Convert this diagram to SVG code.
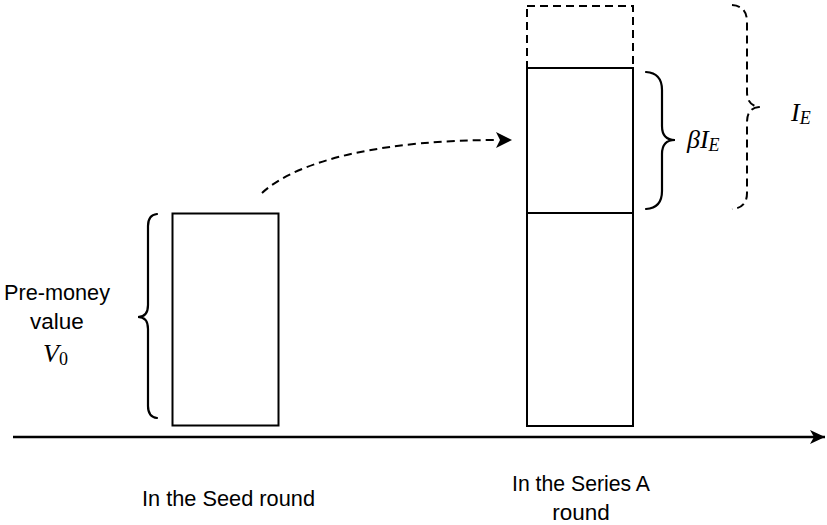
<svg xmlns="http://www.w3.org/2000/svg" width="827" height="525" viewBox="0 0 827 525">
  <style>
    .box { fill: none; stroke: #000; stroke-width: 2; }
    .dash { fill: none; stroke: #000; stroke-width: 2; stroke-dasharray: 8 5; }
    .brace { fill: none; stroke: #000; stroke-width: 2.2; stroke-linecap: round; }
    .lbl { font-family: "Liberation Sans", Arial, sans-serif; font-size: 22.5px; fill: #000; text-anchor: middle; }
    .math { font-family: "Liberation Serif", "DejaVu Serif", serif; font-style: italic; font-size: 26px; fill: #000; }
    .sub { font-size: 18px; }
    .up { font-style: normal; }
  </style>
  <defs>
    <marker id="head" markerWidth="16" markerHeight="16" refX="15" refY="8" orient="auto" markerUnits="userSpaceOnUse">
      <path d="M0,1 L15,8 L0,15 L4,8 Z" fill="#000"/>
    </marker>
  </defs>

  <!-- connectors -->
  <g id="connectors">
    <line x1="13" y1="437" x2="825" y2="437" stroke="#000" stroke-width="2.5" marker-end="url(#head)"/>
    <path class="dash" d="M262,193 C300,158 390,140 498,140"/>
    <path d="M496,132 L512,140 L496,148 L500,140 Z" fill="#000"/>
  </g>

  <!-- seed round stack -->
  <g id="seed-box">
    <rect class="box" x="172.5" y="213.5" width="106" height="212"/>
  </g>
  <g id="seed-brace">
    <path class="brace" d="M157,214 Q148,215 148,226 L148,305 Q148,317 138,317 Q148,317 148,329 L148,406 Q148,417 157,418"/>
  </g>
  <g id="pre-money-label">
    <text class="lbl" x="57" y="300" textLength="106" lengthAdjust="spacingAndGlyphs">Pre-money</text>
    <text class="lbl" x="57" y="329">value</text>
    <text class="math" x="43" y="362">V<tspan class="sub up" dy="3">0</tspan></text>
  </g>
  <g id="seed-caption">
    <text class="lbl" x="228.5" y="506" textLength="173" lengthAdjust="spacingAndGlyphs">In the Seed round</text>
  </g>

  <!-- series A stack -->
  <g id="series-a-new">
    <rect class="dash" x="527" y="6" width="106" height="62"/>
  </g>
  <g id="series-a-equity">
    <rect class="box" x="527" y="68" width="106" height="145"/>
  </g>
  <g id="series-a-base">
    <rect class="box" x="527" y="213" width="106" height="213"/>
  </g>
  <g id="beta-brace">
    <path class="brace" d="M646,72 Q662,73 662,90 L662,126 Q662,140 675,140 Q662,140 662,154 L662,191 Q662,208 646,209"/>
    <text class="math" x="687" y="148">βI<tspan class="sub" dy="3">E</tspan></text>
  </g>
  <g id="ie-brace">
    <path class="dash" d="M732,5 Q747,6 747,22 L747,92 Q747,106 760,107 M759,107 Q747,108 747,122 L747,193 Q747,208 732,209"/>
    <text class="math" x="791" y="121">I<tspan class="sub" dy="3">E</tspan></text>
  </g>
  <g id="series-a-caption">
    <text class="lbl" x="581" y="491" textLength="138" lengthAdjust="spacingAndGlyphs">In the Series A</text>
    <text class="lbl" x="581" y="520">round</text>
  </g>
</svg>
